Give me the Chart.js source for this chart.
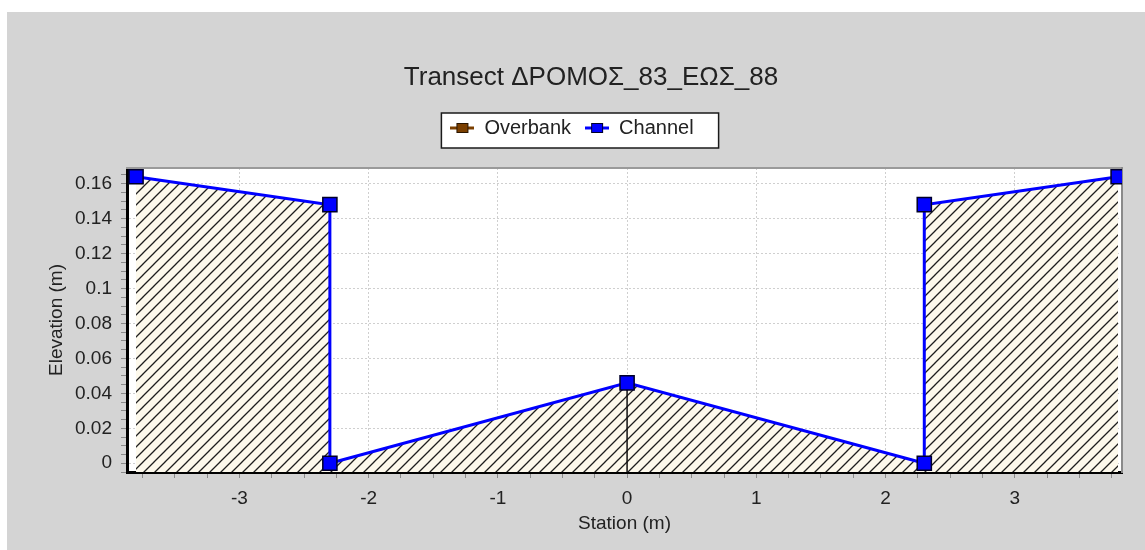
<!DOCTYPE html>
<html>
<head>
<meta charset="utf-8">
<title>Transect</title>
<script src="https://cdn.jsdelivr.net/npm/chart.js@4.4.1/dist/chart.umd.min.js"></script>
<style>
    html, body { margin: 0; padding: 0; background: #ffffff; }
    #wrap { width: 1145px; height: 550px; }
</style>
</head>
<body>
<div id="wrap"><canvas id="transectChart" width="1145" height="550"></canvas></div>
<script>
// Transect points (station, elevation)
const channelStations = [-3.8, -2.3, -2.3, 0, 2.3, 2.3, 3.8];
const channelElevations = [0.164, 0.148, 0, 0.046, 0, 0.148, 0.164];
const overbankStations = [];
const overbankElevations = [];

// Axis limits and tick labels
const xLimits = [-3.87, 3.83];
const yLimits = [-0.005, 0.169];
const xMajorTicks = [-3, -2, -1, 0, 1, 2, 3];
const yMajorTicks = [0, 0.02, 0.04, 0.06, 0.08, 0.1, 0.12, 0.14, 0.16];
const xMinorStep = 0.25;
const yMinorStep = 0.005;

// index of the channel point that gets the vertical divider line
const dividerIndex = 3;

Chart.defaults.font.family = "'Liberation Sans', Arial, sans-serif";

function minorTicks(limits, step) {
    const ticks = [];
    for (let i = Math.ceil(limits[0] / step - 1e-9); i * step <= limits[1] + 1e-9; i++) {
        ticks.push({ value: i * step });
    }
    return ticks;
}

function findMajor(list, value) {
    return list.find(m => Math.abs(m - value) < 1e-9);
}

function toPoints(xs, ys) {
    return xs.map((x, i) => ({ x: x, y: ys[i] }));
}

// diagonal hatch used for the ground fill
function makeHatch() {
    const s = 11;
    const c = document.createElement('canvas');
    c.width = s; c.height = s;
    const g = c.getContext('2d');
    g.fillStyle = '#fdf9ec';
    g.fillRect(0, 0, s, s);
    g.strokeStyle = '#1e1e1e';
    g.lineWidth = 1.3;
    g.beginPath();
    g.moveTo(-2, s + 2); g.lineTo(s + 2, -2);
    g.moveTo(-2, 2); g.lineTo(2, -2);
    g.moveTo(s - 2, s + 2); g.lineTo(s + 2, s - 2);
    g.stroke();
    return g.createPattern(c, 'repeat');
}

// small line + square symbol for the legend
function legendMarker(color, edge) {
    const c = document.createElement('canvas');
    c.width = 24; c.height = 14;
    const g = c.getContext('2d');
    g.strokeStyle = color;
    g.lineWidth = 3;
    g.beginPath();
    g.moveTo(0, 7); g.lineTo(24, 7);
    g.stroke();
    g.fillStyle = color;
    g.fillRect(6.5, 2.5, 11, 9);
    g.strokeStyle = edge;
    g.lineWidth = 1;
    g.strokeRect(6.5, 2.5, 11, 9);
    return c;
}

const legendMarkers = [legendMarker('#7b3f00', '#2a1500'), legendMarker('#0000ff', '#00002a')];

const xTickValues = minorTicks(xLimits, xMinorStep);
const yTickValues = minorTicks(yLimits, yMinorStep);

// grey panel, white plot area and the framed legend
const panelPlugin = {
    id: 'panel',
    afterLayout(chart) {
        if (chart.legend) {
            chart.legend.left -= 19;
            chart.legend.right -= 19;
        }
    },
    beforeDraw(chart) {
        const ctx = chart.ctx;
        const a = chart.chartArea;
        ctx.save();
        ctx.fillStyle = '#d4d4d4';
        ctx.fillRect(7, 12, chart.width - 7, chart.height - 12);
        ctx.fillStyle = '#ffffff';
        ctx.fillRect(a.left, a.top, a.right - a.left, a.bottom - a.top);

        const boxes = chart.legend && chart.legend.legendHitBoxes;
        if (boxes && boxes.length) {
            const first = boxes[0];
            const last = boxes[boxes.length - 1];
            const mid = first.top + first.height / 2;
            const x0 = first.left - 9;
            const x1 = last.left + last.width + 25;
            ctx.fillStyle = '#ffffff';
            ctx.fillRect(x0, mid - 15, x1 - x0, 35);
            ctx.strokeStyle = '#1a1a1a';
            ctx.lineWidth = 1.5;
            ctx.strokeRect(x0, mid - 15, x1 - x0, 35);
        }
        ctx.restore();
    }
};

const ctx = document.getElementById('transectChart');

new Chart(ctx, {
    type: 'line',
    data: {
        datasets: [{
            label: 'Overbank',
            data: toPoints(overbankStations, overbankElevations),
            borderColor: '#7b3f00',
            backgroundColor: '#7b3f00',
            fill: false,
            order: 3
        }, {
            label: 'Channel',
            data: toPoints(channelStations, channelElevations),
            borderColor: '#0000ff',
            borderWidth: 3,
            backgroundColor: makeHatch(),
            fill: 'start',
            pointStyle: 'rect',
            pointRadius: 10,
            pointHoverRadius: 10,
            pointBackgroundColor: '#0000ff',
            pointBorderColor: '#00002a',
            pointBorderWidth: 1.5,
            order: 1
        }, {
            label: 'divider',
            data: [
                { x: channelStations[dividerIndex], y: channelElevations[dividerIndex] },
                { x: channelStations[dividerIndex], y: yLimits[0] }
            ],
            borderColor: '#111111',
            borderWidth: 1.5,
            pointRadius: 0,
            fill: false,
            order: 2
        }]
    },
    options: {
        responsive: false,
        animation: false,
        events: [],
        layout: {
            padding: { left: 37, top: 12, right: 0, bottom: 0 },
            autoPadding: false
        },
        plugins: {
            filler: { drawTime: 'beforeDatasetsDraw' },
            tooltip: { enabled: false },
            title: {
                display: true,
                text: 'Transect ΔΡΟΜΟΣ_83_ΕΩΣ_88',
                color: '#222222',
                font: { size: 26, weight: 'normal' },
                padding: { top: 50.4, bottom: 10.4 }
            },
            legend: {
                display: true,
                position: 'top',
                labels: {
                    usePointStyle: true,
                    pointStyleWidth: 24,
                    padding: 14,
                    color: '#222222',
                    font: { size: 20 },
                    generateLabels: chart => Chart.defaults.plugins.legend.labels.generateLabels(chart)
                        .map(item => Object.assign(item, { pointStyle: legendMarkers[item.datasetIndex] })),
                    filter: item => item.datasetIndex !== 2,
                    sort: (a, b) => a.datasetIndex - b.datasetIndex
                }
            }
        },
        scales: {
            x: {
                type: 'linear',
                position: 'bottom',
                min: xLimits[0],
                max: xLimits[1],
                bounds: 'data',
                afterBuildTicks: scale => { scale.ticks = xTickValues.map(t => ({ value: t.value })); },
                afterFit: scale => { scale.height = 78; },
                ticks: {
                    autoSkip: false,
                    maxRotation: 0,
                    padding: 9,
                    color: '#222222',
                    font: { size: 19 },
                    callback: value => {
                        const m = findMajor(xMajorTicks, value);
                        return m === undefined ? '' : String(m);
                    }
                },
                grid: {
                    color: c => (c.tick && findMajor(xMajorTicks, c.tick.value) !== undefined) ? '#cfcfcf' : 'rgba(0,0,0,0)',
                    tickColor: '#8a8a8a',
                    tickLength: 6,
                    tickWidth: 1,
                    lineWidth: 1
                },
                border: { display: true, color: '#000000', width: 3, dash: [2, 2] },
                title: {
                    display: true,
                    text: 'Station (m)',
                    color: '#222222',
                    font: { size: 19 },
                    padding: { top: 0, bottom: 14.6 }
                }
            },
            y: {
                type: 'linear',
                position: 'left',
                min: yLimits[0],
                max: yLimits[1],
                bounds: 'data',
                afterBuildTicks: scale => { scale.ticks = yTickValues.map(t => ({ value: t.value })); },
                afterFit: scale => { scale.width = 90; },
                ticks: {
                    autoSkip: false,
                    padding: 9,
                    color: '#222222',
                    font: { size: 19 },
                    callback: value => {
                        const m = findMajor(yMajorTicks, value);
                        return m === undefined ? '' : String(m);
                    }
                },
                grid: {
                    color: c => (c.tick && findMajor(yMajorTicks, c.tick.value) !== undefined) ? '#cfcfcf' : 'rgba(0,0,0,0)',
                    tickColor: '#8a8a8a',
                    tickLength: 6,
                    tickWidth: 1,
                    lineWidth: 1
                },
                border: { display: true, color: '#000000', width: 3, dash: [2, 2] },
                title: {
                    display: true,
                    text: 'Elevation (m)',
                    color: '#222222',
                    font: { size: 19 },
                    padding: { top: 8.6, bottom: 0 }
                }
            },
            xTop: {
                type: 'linear',
                position: 'top',
                display: true,
                afterFit: scale => { scale.height = 20; },
                ticks: { display: false },
                grid: { color: 'rgba(0,0,0,0)', drawTicks: false },
                border: { display: true, color: '#9a9a9a', width: 2 }
            },
            yRight: {
                type: 'linear',
                position: 'right',
                display: true,
                afterFit: scale => { scale.width = 23; },
                ticks: { display: false },
                grid: { color: 'rgba(0,0,0,0)', drawTicks: false },
                border: { display: true, color: '#8a8a8a', width: 2 }
            }
        }
    },
    plugins: [panelPlugin]
});
</script>
</body>
</html>
